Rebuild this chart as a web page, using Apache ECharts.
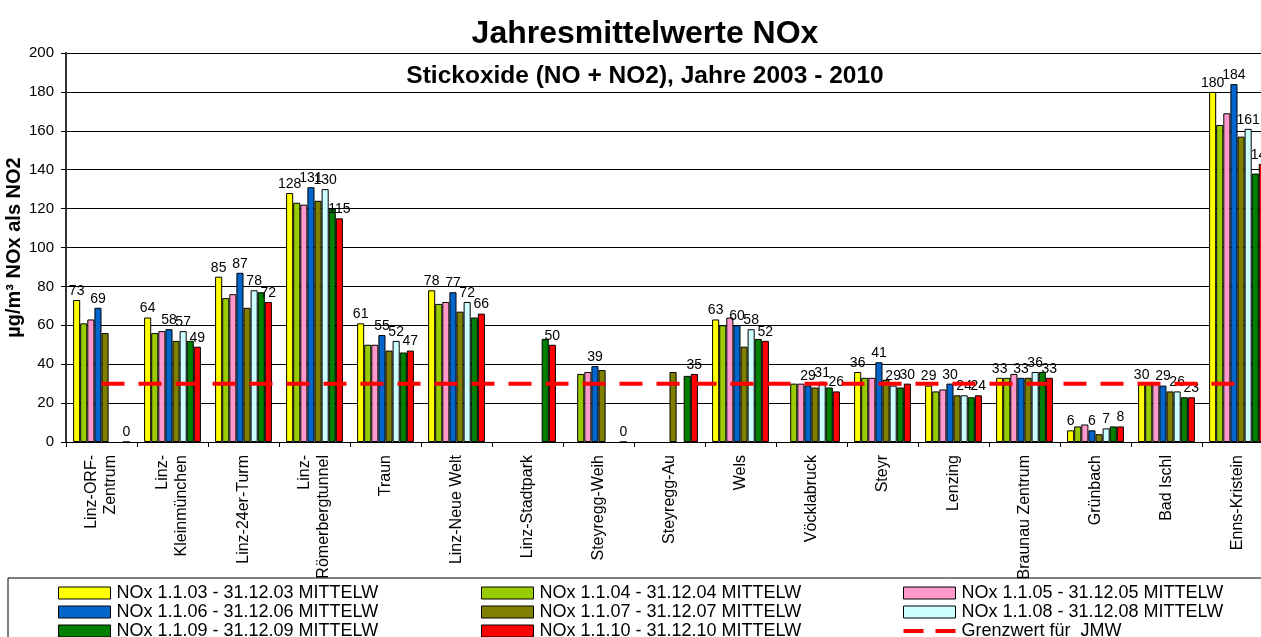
<!DOCTYPE html>
<html>
<head>
<meta charset="utf-8">
<style>
  html, body { margin: 0; padding: 0; background: #fff; }
  #chart { width: 1261px; height: 637px; }
</style>
<script src="https://cdn.jsdelivr.net/npm/echarts@6/dist/echarts.min.js"></script>
</head>
<body>
<div id="chart"></div>
<script>
var stations = ['Linz-ORF-\nZentrum', 'Linz-\nKleinmünchen', 'Linz-24er-Turm', 'Linz-\nRömerbergtunnel',
  'Traun', 'Linz-Neue Welt', 'Linz-Stadtpark', 'Steyregg-Weih', 'Steyregg-Au', 'Wels', 'Vöcklabruck',
  'Steyr', 'Lenzing', 'Braunau Zentrum', 'Grünbach', 'Bad Ischl', 'Enns-Kristein'];

var nox03 = [73, 64, 85, 128, 61, 78, null, null, null, 63, null, 36, 29, 33, 6, 30, 180];
var nox04 = [61, 56, 74, 123, 50, 71, null, 35, null, 60, 30, 33, 26, 33, 8, 30, 163];
var nox05 = [63, 57, 76, 122, 50, 72, null, 36, null, 64, 30, 33, 27, 35, 9, 30, 169];
var nox06 = [69, 58, 87, 131, 55, 77, null, 39, null, 60, 29, 41, 30, 33, 6, 29, 184];
var nox07 = [56, 52, 69, 124, 47, 67, null, 37, 36, 49, 28, 32, 24, 33, 4, 26, 157];
var nox08 = [null, 57, 78, 130, 52, 72, null, null, null, 58, 31, 29, 24, 36, 7, 26, 161];
var nox09 = [null, 52, 77, 120, 46, 64, 53, null, 34, 53, 28, 28, 23, 36, 8, 23, 138];
var nox10 = [0, 49, 72, 115, 47, 66, 50, 0, 35, 52, 26, 30, 24, 33, 8, 23, 143];
var grenzwert = [30, 30, 30, 30, 30, 30, 30, 30, 30, 30, 30, 30, 30, 30, 30, 30, 30];

var yTicks = [0, 20, 40, 60, 80, 100, 120, 140, 160, 180, 200];

var font = 'Arial, "Liberation Sans", sans-serif';

var barDefs = [
  { name: 'NOx 1.1.03 - 31.12.03 MITTELW', data: nox03, color: '#ffff00', label: true },
  { name: 'NOx 1.1.04 - 31.12.04 MITTELW', data: nox04, color: '#99cc00', label: false },
  { name: 'NOx 1.1.05 - 31.12.05 MITTELW', data: nox05, color: '#ff99cc', label: false },
  { name: 'NOx 1.1.06 - 31.12.06 MITTELW', data: nox06, color: '#0066cc', label: true },
  { name: 'NOx 1.1.07 - 31.12.07 MITTELW', data: nox07, color: '#808000', label: false },
  { name: 'NOx 1.1.08 - 31.12.08 MITTELW', data: nox08, color: '#ccffff', label: true },
  { name: 'NOx 1.1.09 - 31.12.09 MITTELW', data: nox09, color: '#008000', label: false },
  { name: 'NOx 1.1.10 - 31.12.10 MITTELW', data: nox10, color: '#ff0000', label: true }
];
var limitName = 'Grenzwert für  JMW';

var series = barDefs.map(function(d) {
  return {
    name: d.name,
    type: 'bar',
    data: d.data,
    barGap: '0%',
    barCategoryGap: '20%',
    itemStyle: { color: d.color, borderColor: '#000', borderWidth: 1 },
    label: {
      show: d.label,
      position: 'top',
      distance: 2,
      color: '#000',
      fontFamily: font,
      fontSize: 14
    },
    animation: false
  };
});
series.push({
  name: limitName,
  type: 'line',
  data: grenzwert,
  symbol: 'none',
  z: 5,
  itemStyle: { color: '#ff0000' },
  lineStyle: { color: '#ff0000', width: 4, type: [23, 14] },
  animation: false
});

// two short dashes for the limit line in the legend
var dashIcon = 'path://M0,0H20V4H0Z M32,0H52V4H32Z';

function legendCol(names, left) {
  return {
    data: names.map(function(n) {
      if (n === limitName) {
        return { name: n, icon: dashIcon, itemStyle: { color: '#ff0000', borderWidth: 0 } };
      }
      return { name: n, icon: 'rect' };
    }),
    orient: 'vertical',
    left: left,
    top: 584,
    height: 80,
    itemWidth: 52,
    itemHeight: 12,
    itemGap: 1,
    padding: 0,
    selectedMode: false,
    itemStyle: { borderColor: '#000', borderWidth: 1 },
    textStyle: { color: '#000', fontFamily: font, fontSize: 18, lineHeight: 18, padding: [0, 0, 0, 1] }
  };
}

var chart = echarts.init(document.getElementById('chart'), null, { renderer: 'canvas' });
chart.setOption({
  backgroundColor: '#fff',
  animation: false,
  title: [
    {
      text: 'Jahresmittelwerte NOx',
      left: 645, top: 18, textAlign: 'center', padding: 0,
      textStyle: { fontFamily: font, fontSize: 32, fontWeight: 'bold', color: '#000' }
    },
    {
      text: 'Stickoxide (NO + NO2), Jahre 2003 - 2010',
      left: 645, top: 64, textAlign: 'center', padding: 0,
      textStyle: { fontFamily: font, fontSize: 24.5, fontWeight: 'bold', color: '#000' }
    }
  ],
  legend: [
    legendCol([barDefs[0].name, barDefs[3].name, barDefs[6].name], 58),
    legendCol([barDefs[1].name, barDefs[4].name, barDefs[7].name], 481),
    legendCol([barDefs[2].name, barDefs[5].name, limitName], 903)
  ],
  graphic: [{
    type: 'rect',
    shape: { x: 8, y: 578, width: 1270, height: 80 },
    style: { fill: 'none', stroke: '#000', lineWidth: 1 },
    silent: true
  }],
  grid: { left: 66, top: 53, width: 1207, height: 389, outerBoundsMode: 'none', containLabel: false },
  xAxis: {
    type: 'category',
    data: stations,
    axisLine: { lineStyle: { color: '#000', width: 1 } },
    axisTick: { show: true, length: 5, lineStyle: { color: '#000' } },
    axisLabel: {
      interval: 0,
      rotate: 90,
      margin: 13,
      color: '#000',
      fontFamily: font,
      fontSize: 16,
      lineHeight: 19
    }
  },
  yAxis: {
    type: 'value',
    min: yTicks[0],
    max: yTicks[yTicks.length - 1],
    interval: 20,
    name: 'µg/m³ NOx als NO2',
    nameLocation: 'middle',
    nameGap: 42,
    nameMoveOverlap: false,
    nameTextStyle: { fontFamily: font, fontSize: 20, fontWeight: 'bold', color: '#000' },
    axisLine: { show: true, lineStyle: { color: '#333', width: 2 } },
    axisTick: { show: true, length: 5, lineStyle: { color: '#000' } },
    axisLabel: { color: '#000', fontFamily: font, fontSize: 15, margin: 12 },
    splitLine: { lineStyle: { color: '#000', width: 1 } }
  },
  series: series
});
</script>
</body>
</html>
